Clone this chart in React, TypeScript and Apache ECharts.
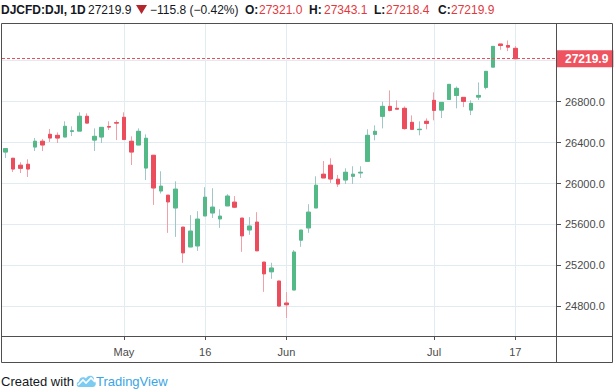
import React, { useEffect, useRef } from 'react';
import * as echarts from 'echarts';

const dates = [
  '2019-04-08', '2019-04-09', '2019-04-10', '2019-04-11', '2019-04-12',
  '2019-04-15', '2019-04-16', '2019-04-17', '2019-04-18',
  '2019-04-22', '2019-04-23', '2019-04-24', '2019-04-25', '2019-04-26',
  '2019-04-29', '2019-04-30', '2019-05-01', '2019-05-02', '2019-05-03',
  '2019-05-06', '2019-05-07', '2019-05-08', '2019-05-09', '2019-05-10',
  '2019-05-13', '2019-05-14', '2019-05-15', '2019-05-16', '2019-05-17',
  '2019-05-20', '2019-05-21', '2019-05-22', '2019-05-23', '2019-05-24',
  '2019-05-28', '2019-05-29', '2019-05-30', '2019-05-31',
  '2019-06-03', '2019-06-04', '2019-06-05', '2019-06-06', '2019-06-07',
  '2019-06-10', '2019-06-11', '2019-06-12', '2019-06-13', '2019-06-14',
  '2019-06-17', '2019-06-18', '2019-06-19', '2019-06-20', '2019-06-21',
  '2019-06-24', '2019-06-25', '2019-06-26', '2019-06-27', '2019-06-28',
  '2019-07-01', '2019-07-02', '2019-07-03', '2019-07-05',
  '2019-07-08', '2019-07-09', '2019-07-10', '2019-07-11', '2019-07-12',
  '2019-07-15', '2019-07-16', '2019-07-17',
];

const opens = [
  26308, 26247, 26179, 26188, 26357, 26413, 26481, 26471, 26455, 26510,
  26513, 26657, 26425, 26455, 26556, 26595, 26647, 26413, 26377, 26152,
  26276, 25928, 25886, 25762, 25574, 25381, 25391, 25684, 25713, 25655,
  25782, 25818, 25662, 25547, 25623, 25232, 25138, 25047, 24832, 24960,
  25447, 25567, 25762, 26091, 26179, 26042, 26035, 26071, 26104, 26217,
  26481, 26657, 26754, 26735, 26735, 26598, 26527, 26608, 26813, 26718,
  26822, 26861, 26842, 26718, 26845, 26940, 27138, 27363, 27349, 27321.0,
];
const highs = [
  26347, 26250, 26208, 26237, 26445, 26435, 26533, 26500, 26608, 26559,
  26696, 26686, 26539, 26549, 26608, 26618, 26696, 26461, 26539, 26481,
  26276, 26120, 25886, 26022, 25574, 25691, 25730, 25964, 25954, 25749,
  25896, 25877, 25662, 25672, 25720, 25232, 25226, 25047, 24939, 25350,
  25545, 25798, 26071, 26220, 26247, 26084, 26149, 26169, 26169, 26530,
  26569, 26800, 26910, 26813, 26754, 26666, 26608, 26637, 26891, 26793,
  26969, 26949, 26842, 26813, 26988, 27096, 27340, 27363, 27398, 27343.1,
];
const lows = [
  26250, 26113, 26103, 26064, 26318, 26318, 26406, 26396, 26455, 26464,
  26513, 26591, 26318, 26396, 26523, 26425, 26425, 26181, 26377, 26035,
  25791, 25903, 25518, 25479, 25225, 25381, 25342, 25684, 25664, 25567,
  25782, 25760, 25333, 25499, 25343, 24942, 25069, 24800, 24686, 24960,
  25382, 25518, 25762, 26055, 26006, 25967, 25996, 25996, 26055, 26217,
  26422, 26539, 26705, 26727, 26527, 26530, 26471, 26530, 26618, 26640,
  26822, 26735, 26747, 26669, 26816, 26920, 27138, 27307, 27294, 27218.4,
];
const closes = [
  26341, 26142, 26149, 26142, 26413, 26377, 26445, 26445, 26559, 26515,
  26657, 26591, 26461, 26549, 26552, 26591, 26430, 26308, 26510, 26442,
  25957, 25974, 25821, 25945, 25323, 25535, 25652, 25866, 25769, 25681,
  25877, 25769, 25489, 25584, 25343, 25118, 25174, 24803, 24816, 25330,
  25545, 25720, 25983, 26055, 26045, 25996, 26110, 26091, 26110, 26471,
  26510, 26754, 26715, 26727, 26537, 26530, 26530, 26588, 26715, 26793,
  26969, 26930, 26803, 26783, 26861, 27096, 27340, 27349, 27333, 27219.9,
];

const tickDates = ['2019-05-01', '2019-05-16', '2019-06-03', '2019-07-01', '2019-07-17'];
const tickLabels = ['May', '16', 'Jun', 'Jul', '17'];
const emptySlots = 5;

const yMin = 24510.3;
const yMax = 27563.9;
const yStep = 400;

const headerSymbol = 'DJCFD:DJI, 1D';
const headerLast = '27219.9';
const headerChange = '\u2212115.8 (\u22120.42%)';
const ohlcKeys = ['O:', 'H:', 'L:', 'C:'];
const ohlcVals = ['27321.0', '27343.1', '27218.4', '27219.9'];

const UP = '#53b987';
const DOWN = '#eb4d5c';
const UP_WICK = '#9fc6c8';
const DOWN_WICK = '#f2a0a8';
const GRID = '#e1ecf2';
const FRAME = '#4f4f4f';
const FONT = 'Liberation Sans, Arial, sans-serif';

echarts.graphic.registerShape(
  'tvcloud',
  echarts.graphic.extendPath(
    'M3 14 C0 14 0 9 3 8.5 C3 4 8 3 10 5.5 C12 1 19 2 18 8 C21 9 20 14 17 14 Z',
    {}
  )
);
echarts.graphic.registerShape(
  'tvzig',
  echarts.graphic.extendPath('M2 12 L7 7 L10 10 L15 5 L19 9', {})
);

export default function App() {
  const ref = useRef<HTMLDivElement>(null);

  useEffect(() => {
    const el = ref.current;
    if (!el) return;
    const chart = echarts.init(el, null, { renderer: 'svg' });

    const cats = [...dates, ...Array.from({ length: emptySlots }, (_, i) => 'empty-' + i)];
    const labelMap: Record<string, string> = {};
    tickDates.forEach((d, i) => (labelMap[d] = tickLabels[i]));
    const isTick = (_i: number, v: string) => tickDates.includes(v);

    const wickData = dates.map((_, i) => [opens[i], closes[i], lows[i], highs[i]]);
    const bodyData = dates.map((_, i) => [
      opens[i],
      closes[i],
      Math.min(opens[i], closes[i]),
      Math.max(opens[i], closes[i]),
    ]);
    const lastClose = closes[closes.length - 1];

    const line = (x1: number, y1: number, x2: number, y2: number) => ({
      type: 'line',
      shape: { x1, y1, x2, y2 },
      style: { stroke: FRAME, lineWidth: 1 },
      z: 50,
      silent: true,
    });

    const txt = (x: number, text: string, fill: string, bold = false, size = 12) => ({
      type: 'text',
      x,
      y: 10,
      style: {
        text,
        fill,
        font: `${bold ? 'bold ' : ''}${size}px ${FONT}`,
        verticalAlign: 'middle',
        align: 'left',
      },
      z: 60,
    });

    const headerValColor = '#e0393e';
    const keyX = [245, 309, 374, 438];
    const valX = [259, 324, 386, 451];

    const graphics: any[] = [
      line(1.5, 23.5, 612.5, 23.5),
      line(1.5, 23.5, 1.5, 362.5),
      line(612.5, 23.5, 612.5, 362.5),
      line(556.5, 23.5, 556.5, 362.5),
      line(1.5, 336.5, 612.5, 336.5),
      line(1.5, 362.5, 612.5, 362.5),
      txt(1, headerSymbol, '#131722', true),
      txt(88, headerLast, '#131722'),
      {
        type: 'polygon',
        shape: { points: [[136, 5], [147, 5], [141.5, 14]] },
        style: { fill: '#b3262b' },
        z: 60,
      },
      txt(150, headerChange, '#131722'),
      ...ohlcKeys.map((k, i) => txt(keyX[i], k, '#131722', true)),
      ...ohlcVals.map((v, i) => txt(valX[i], v, headerValColor)),
      {
        type: 'text',
        x: 1,
        y: 381,
        style: { text: 'Created with', fill: '#131722', font: `13px ${FONT}`, verticalAlign: 'middle' },
        z: 60,
      },
      {
        type: 'tvcloud',
        x: 76,
        y: 373,
        scaleX: 1,
        scaleY: 1,
        style: { fill: '#7ccbf3' },
        z: 60,
      },
      {
        type: 'tvzig',
        x: 76,
        y: 373,
        scaleX: 1,
        scaleY: 1,
        style: { fill: 'none', stroke: '#ffffff', lineWidth: 1.6 },
        z: 61,
      },
      {
        type: 'text',
        x: 96,
        y: 381,
        style: { text: 'TradingView', fill: '#39a5e5', font: `13px ${FONT}`, verticalAlign: 'middle' },
        z: 60,
      },
    ];

    chart.setOption({
      animation: false,
      backgroundColor: '#ffffff',
      grid: { left: 2, top: 23.5, right: 58, bottom: 55, containLabel: false },
      xAxis: {
        type: 'category',
        data: cats,
        boundaryGap: true,
        axisLine: { show: false },
        axisTick: {
          show: true,
          interval: isTick,
          alignWithLabel: true,
          length: 4,
          lineStyle: { color: FRAME },
        },
        axisLabel: {
          interval: isTick,
          formatter: (v: string) => labelMap[v] ?? '',
          color: '#4a4a4a',
          fontSize: 11,
          fontFamily: FONT,
          margin: 10,
        },
        splitLine: {
          show: true,
          interval: isTick,
          alignWithLabel: true,
          lineStyle: { color: GRID, width: 1 },
        },
      },
      yAxis: {
        type: 'value',
        position: 'right',
        min: yMin,
        max: yMax,
        minInterval: yStep,
        maxInterval: yStep,
        axisLine: { show: false },
        axisTick: { show: true, length: 5, lineStyle: { color: FRAME } },
        axisLabel: {
          showMinLabel: false,
          showMaxLabel: false,
          // the tick label hidden behind the last-price tag in the reference
          formatter: (v: number) => (Math.abs(v - lastClose) < yStep / 4 ? '' : v.toFixed(1)),
          color: '#4a4a4a',
          fontSize: 11,
          fontFamily: FONT,
          margin: 9,
        },
        splitLine: { show: true, lineStyle: { color: GRID, width: 1 } },
      },
      series: [
        {
          type: 'candlestick',
          name: 'wicks',
          data: wickData,
          barWidth: 4,
          z: 2,
          itemStyle: {
            color: 'transparent',
            color0: 'transparent',
            borderColor: UP_WICK,
            borderColor0: DOWN_WICK,
            borderWidth: 1,
          },
        },
        {
          type: 'candlestick',
          name: 'bodies',
          data: bodyData,
          barWidth: 4,
          z: 3,
          itemStyle: {
            color: UP,
            color0: DOWN,
            borderColor: UP,
            borderColor0: DOWN,
            borderWidth: 1,
          },
          markLine: {
            silent: true,
            symbol: ['none', 'none'],
            data: [{ yAxis: lastClose }],
            lineStyle: { color: DOWN, type: [3, 2], width: 1 },
            label: {
              show: true,
              position: 'end',
              distance: 0,
              formatter: () => lastClose.toFixed(1),
              color: '#ffffff',
              backgroundColor: '#ef5360',
              fontSize: 12,
              fontWeight: 'bold',
              fontFamily: FONT,
              lineHeight: 12,
              padding: [3, 5, 2, 9],
            },
          },
        },
      ],
      graphic: graphics,
    });

    return () => chart.dispose();
  }, []);

  return (
    <div
      ref={ref}
      style={{ position: 'fixed', left: 0, top: 0, width: 614, height: 391, background: '#fff' }}
    />
  );
}
